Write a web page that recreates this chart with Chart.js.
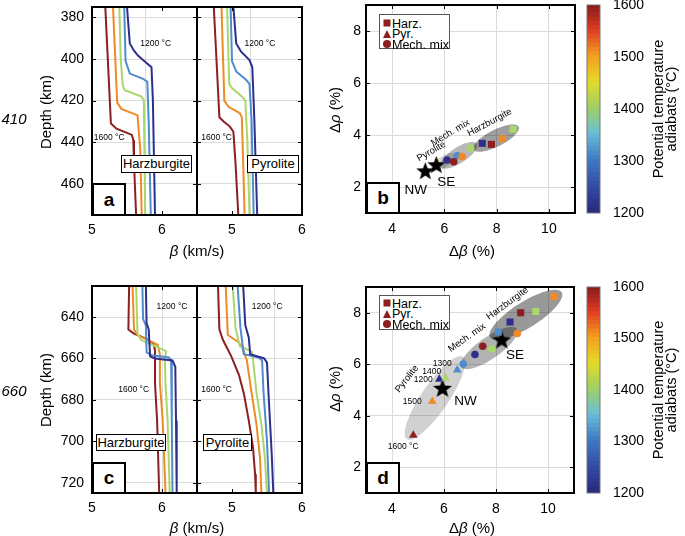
<!DOCTYPE html>
<html><head><meta charset="utf-8">
<script src="https://cdn.jsdelivr.net/npm/chart.js"></script>
<style>
html,body{margin:0;padding:0;background:#fff;}
#wrap{position:relative;width:685px;height:536px;overflow:hidden;font-family:"Liberation Sans",Arial,Helvetica,sans-serif;color:#000;}
canvas.layer{position:absolute;left:0;top:0;width:685px;height:536px;}
.t{position:absolute;white-space:nowrap;line-height:1;transform:translate(-50%,-50%);}
.rot{transform:translate(-50%,-50%) rotate(-90deg);}
.box{position:absolute;background:#fff;border:1px solid #000;font-size:13px;line-height:16px;text-align:center;box-sizing:border-box;}
.let{position:absolute;background:#fff;border:2px solid #000;font-weight:bold;font-size:19px;text-align:center;box-sizing:border-box;}
.leg{position:absolute;width:71px;height:35px;border:1px solid #555;box-sizing:border-box;background:#fff;}
.leg span{position:absolute;left:12px;font-size:12.5px;line-height:1;transform:translateY(-50%);white-space:nowrap;}
.sq{position:absolute;width:7px;height:7px;background:#8c1f1f;transform:translate(-50%,-50%);}
.tri{position:absolute;width:0;height:0;border-left:4.5px solid transparent;border-right:4.5px solid transparent;border-bottom:8px solid #8c1f1f;transform:translate(-50%,-50%);}
.ci{position:absolute;width:8px;height:8px;border-radius:50%;background:#8c1f1f;transform:translate(-50%,-50%);}
</style></head><body>
<div id="wrap">
<canvas class="layer" id="cA1" width="685" height="536"></canvas>
<canvas class="layer" id="cA2" width="685" height="536"></canvas>
<canvas class="layer" id="cC1" width="685" height="536"></canvas>
<canvas class="layer" id="cC2" width="685" height="536"></canvas>
<canvas class="layer" id="cB" width="685" height="536"></canvas>
<canvas class="layer" id="cD" width="685" height="536"></canvas>
<canvas class="layer" id="cCB1" width="685" height="536"></canvas>
<canvas class="layer" id="cCB2" width="685" height="536"></canvas>

<div class="t" style="left:14px;top:118px;font-size:15px;font-style:italic">410</div>
<div class="t" style="left:14px;top:390px;font-size:15px;font-style:italic">660</div>
<div class="t rot" style="left:45px;top:112px;font-size:15px">Depth (km)</div>
<div class="t rot" style="left:45px;top:390px;font-size:15px">Depth (km)</div>
<div class="t" style="left:197px;top:250px;font-size:15px"><i>β</i> (km/s)</div>
<div class="t" style="left:197px;top:527px;font-size:15px"><i>β</i> (km/s)</div>
<div class="t" style="left:472px;top:250px;font-size:15px">Δ<i>β</i> (%)</div>
<div class="t" style="left:472px;top:527px;font-size:15px">Δ<i>β</i> (%)</div>
<div class="t rot" style="left:334px;top:110px;font-size:15px">Δ<i>ρ</i> (%)</div>
<div class="t rot" style="left:334px;top:389px;font-size:15px">Δ<i>ρ</i> (%)</div>
<div class="t rot" style="left:665px;top:109px;font-size:14.5px;line-height:13px;text-align:center">Potential temperature<br>adiabats (°C)</div>
<div class="t rot" style="left:665px;top:390px;font-size:14.5px;line-height:13px;text-align:center">Potential temperature<br>adiabats (°C)</div>

<div class="box" style="left:121px;top:155px;width:71px;height:18px">Harzburgite</div>
<div class="box" style="left:247px;top:155px;width:52px;height:18px">Pyrolite</div>
<div class="box" style="left:96px;top:434px;width:70px;height:17px;line-height:15px">Harzburgite</div>
<div class="box" style="left:203px;top:434px;width:49px;height:17px;line-height:15px">Pyrolite</div>

<div class="let" style="left:92px;top:183px;width:34px;height:33px;line-height:29px">a</div>
<div class="let" style="left:366px;top:182px;width:34px;height:32px;line-height:28px">b</div>
<div class="let" style="left:92px;top:462px;width:34px;height:32px;line-height:28px">c</div>
<div class="let" style="left:366px;top:462px;width:34px;height:32px;line-height:28px">d</div>

<div class="leg" style="left:379px;top:14px">
  <div class="sq" style="left:7px;top:8px"></div><span style="top:8.5px">Harz.</span>
  <div class="tri" style="left:7px;top:18.5px"></div><span style="top:19px">Pyr.</span>
  <div class="ci" style="left:7px;top:29px"></div><span style="top:29.5px">Mech. mix</span>
</div>
<div class="leg" style="left:379px;top:295px">
  <div class="sq" style="left:7px;top:7px"></div><span style="top:7.5px">Harz.</span>
  <div class="tri" style="left:7px;top:17.5px"></div><span style="top:18px">Pyr.</span>
  <div class="ci" style="left:7px;top:28px"></div><span style="top:28.5px">Mech. mix</span>
</div>
</div>

<script>
// ===================== DATA =====================
const temps = [1200, 1300, 1400, 1500, 1600];           // potential temperature adiabats (°C)
const betaTicks = [5, 6];                                // β tick labels (km/s)
const depthTicks410 = [380, 400, 420, 440, 460];
const depthTicks660 = [640, 660, 680, 700, 720];
const dBetaTicks = [4, 6, 8, 10];
const dRhoTicks = [2, 4, 6, 8];
const cbarTicks = [1200, 1300, 1400, 1500, 1600];

// Panel a, Harzburgite, 410 km: [β (km/s), depth (km)]
const harz410_1200 = [[5.50,375],[5.54,392.5],[5.60,396],[5.66,398.5],[5.73,400.5],[5.85,404],[5.87,420],[5.90,475]];
const harz410_1300 = [[5.46,375],[5.48,401],[5.54,407],[5.73,409.5],[5.79,411],[5.81,430],[5.84,475]];
const harz410_1400 = [[5.39,375],[5.41,400],[5.44,413],[5.47,415],[5.70,418],[5.74,419.5],[5.76,475]];
const harz410_1500 = [[5.30,375],[5.36,421],[5.42,424],[5.57,426],[5.65,427],[5.69,444],[5.71,475]];
const harz410_1600 = [[5.19,375],[5.27,431],[5.35,433.5],[5.57,436.5],[5.59,439],[5.60,450],[5.63,475]];
// Panel a, Pyrolite, 410 km
const pyr410_1200 = [[5.02,375],[5.06,392.5],[5.13,396.5],[5.25,400.5],[5.29,404],[5.32,430],[5.36,475]];
const pyr410_1300 = [[4.98,375],[5.00,401],[5.06,406],[5.20,410],[5.25,412],[5.28,430],[5.31,475]];
const pyr410_1400 = [[4.93,375],[4.96,412],[5.00,414],[5.14,418],[5.19,420],[5.22,440],[5.25,475]];
const pyr410_1500 = [[4.85,375],[4.89,420],[4.95,423],[5.11,426],[5.14,428],[5.16,450],[5.18,475]];
const pyr410_1600 = [[4.74,375],[4.82,428],[4.88,430],[4.97,432.5],[5.02,435],[5.05,450],[5.09,475]];
// Panel c, Harzburgite, 660 km
const harz660_1200 = [[5.77,625],[5.78,643],[5.81,646],[5.83,659],[5.90,660],[6.15,661],[6.19,664],[6.20,690],[6.21,725]];
const harz660_1300 = [[5.72,625],[5.73,641],[5.77,644],[5.78,657],[5.85,658.5],[6.10,659.5],[6.13,661],[6.14,690],[6.15,725]];
const harz660_1400 = [[5.63,625],[5.65,648],[5.70,651],[5.90,654],[6.06,656.5],[6.04,660],[6.05,672],[6.08,690],[6.11,725]];
const harz660_1500 = [[5.58,625],[5.60,646],[5.66,649],[5.80,651],[5.94,653.5],[5.97,658],[5.97,672],[6.01,690],[6.05,725]];
const harz660_1600 = [[5.53,625],[5.52,646],[5.60,648],[5.78,650.5],[5.88,653],[5.90,656],[5.90,672],[5.93,690],[5.96,725]];
// Panel c, Pyrolite, 660 km
const pyr660_1200 = [[5.16,625],[5.19,644],[5.24,650],[5.26,658],[5.46,660],[5.50,662],[5.52,676],[5.57,708],[5.59,725]];
const pyr660_1300 = [[5.08,625],[5.12,645],[5.16,656],[5.17,658],[5.38,659.5],[5.43,661],[5.45,676],[5.50,700],[5.53,725]];
const pyr660_1400 = [[5.01,625],[5.05,645],[5.11,654],[5.28,656.7],[5.30,660.6],[5.35,676.5],[5.42,692],[5.47,708],[5.50,725]];
const pyr660_1500 = [[4.91,625],[4.94,648.7],[5.09,652],[5.14,654.3],[5.21,660.6],[5.28,676.5],[5.35,692],[5.40,708],[5.42,725]];
const pyr660_1600 = [[4.80,625],[4.82,646],[4.87,651],[4.99,659],[5.10,668],[5.17,677],[5.24,690],[5.30,703],[5.33,716],[5.34,725]];

// Panel b (410 km): Δβ (%), Δρ (%) by composition
const bHarzT  = [1200, 1600, 1500, 1400];
const bHarzDB = [7.45, 7.80, 8.22, 8.63];
const bHarzDR = [3.68, 3.64, 3.86, 4.22];
const bMechT  = [1200, 1300, 1600, 1500, 1400];
const bMechDB = [6.10, 6.49, 6.36, 6.68, 7.00];
const bMechDR = [3.04, 3.20, 2.97, 3.17, 3.49];
const bStarNames = ['NW', 'SE'];
const bStarDB = [5.27, 5.69];
const bStarDR = [2.63, 2.87];
// Panel d (660 km)
const dHarzT  = [1300, 1200, 1600, 1400, 1500];
const dHarzDB = [8.09, 8.54, 8.95, 9.53, 10.23];
const dHarzDR = [7.25, 7.64, 8.00, 8.05, 8.63];
const dMechT  = [1300, 1200, 1600, 1400, 1500];
const dMechDB = [6.74, 7.19, 7.49, 7.83, 8.82];
const dMechDR = [6.01, 6.38, 6.70, 6.59, 7.19];
const dPyrT   = [1200, 1300, 1400, 1500, 1600];
const dPyrDB  = [5.82, 6.51, 6.07, 5.55, 4.82];
const dPyrDR  = [5.42, 5.78, 5.46, 4.56, 3.24];
const dStarNames = ['NW', 'SE'];
const dStarDB = [5.94, 8.22];
const dStarDR = [5.08, 6.96];

// ===================== STYLE / LAYOUT =====================
const W = 685, H = 536;
const FONT = "'Liberation Sans', Arial, Helvetica, sans-serif";
Chart.defaults.font.family = FONT;
Chart.defaults.color = '#000';
const tempColors = ['#2e2f8c', '#4e8ccc', '#a9d76c', '#f08a24', '#8c1f1f'];
const colorOf = T => tempColors[temps.indexOf(T)];
const GRID = '#dcdcdc';

function frame(plot, axW, xH, right) {
  return { autoPadding: false, padding: {
    left: plot.l - (right ? 0 : axW), right: W - plot.r - (right ? axW : 0),
    top: plot.t, bottom: H - plot.b - xH } };
}
function fixW(w) { return s => { s.width = w; s.paddingTop = 0; s.paddingBottom = 0; s.paddingLeft = 0; s.paddingRight = 0; }; }
function fixH(h) { return s => { s.height = h; s.paddingTop = 0; s.paddingBottom = 0; s.paddingLeft = 0; s.paddingRight = 0; }; }

function annot(spec) {
  return {
    id: 'annot',
    beforeDatasetsDraw(chart) {
      const { ctx, scales: { x, y } } = chart;
      (spec.ellipses || []).forEach(e => {
        const a = e.ang * Math.PI / 180;
        ctx.save(); ctx.beginPath();
        for (let i = 0; i <= 90; i++) {
          const t = i / 90 * 2 * Math.PI, u = e.a * Math.cos(t), v = e.b * Math.sin(t);
          const px = x.getPixelForValue(e.cx + u * Math.cos(a) - v * Math.sin(a));
          const py = y.getPixelForValue(e.cy + u * Math.sin(a) + v * Math.cos(a));
          i ? ctx.lineTo(px, py) : ctx.moveTo(px, py);
        }
        ctx.closePath(); ctx.fillStyle = e.fill; ctx.fill(); ctx.restore();
      });
    },
    afterDatasetsDraw(chart) {
      const { ctx, scales: { x, y } } = chart;
      (spec.texts || []).forEach(tx => {
        ctx.save();
        ctx.translate(x.getPixelForValue(tx.x), y.getPixelForValue(tx.y));
        ctx.rotate(-(tx.rot || 0) * Math.PI / 180);
        ctx.font = (tx.size || 9) + 'px ' + FONT;
        ctx.fillStyle = '#000'; ctx.textAlign = 'center'; ctx.textBaseline = 'middle';
        ctx.fillText(tx.text, 0, 0);
        ctx.restore();
      });
    },
    afterDraw(chart) {
      const { ctx, chartArea: a } = chart;
      ctx.save();
      if (spec.ticks) {
        ctx.strokeStyle = '#000'; ctx.lineWidth = 1; ctx.beginPath();
        chart.scales.y.ticks.forEach(t => {
          const py = Math.round(chart.scales.y.getPixelForValue(t.value)) + 0.5;
          ctx.moveTo(a.left, py); ctx.lineTo(a.left + 4, py);
          ctx.moveTo(a.right, py); ctx.lineTo(a.right - 4, py);
        });
        (spec.xTickVals || []).forEach(v => {
          const px = Math.round(chart.scales.x.getPixelForValue(v)) + 0.5;
          ctx.moveTo(px, a.bottom); ctx.lineTo(px, a.bottom - 4);
          ctx.moveTo(px, a.top); ctx.lineTo(px, a.top + 4);
        });
        ctx.stroke();
      }
      ctx.strokeStyle = spec.borderColor || '#000';
      ctx.lineWidth = spec.borderWidth || 2;
      ctx.strokeRect(a.left, a.top, a.right - a.left, a.bottom - a.top);
      ctx.restore();
    }
  };
}

function profile(id, plot, series, cfg) {
  const allX = [...new Set([...betaTicks, ...cfg.gridX])].sort((p, q) => p - q);
  new Chart(document.getElementById(id), {
    type: 'scatter',
    data: { datasets: series.map((s, i) => ({
      data: s.map(p => ({ x: p[0], y: p[1] })), showLine: true, borderColor: tempColors[i],
      borderWidth: 2, pointRadius: 0, fill: false, tension: 0 })) },
    options: {
      responsive: false, animation: false, events: [],
      layout: frame(plot, cfg.yLabels ? 50 : 0, 40, false),
      plugins: { legend: { display: false }, tooltip: { enabled: false } },
      scales: {
        x: { type: 'linear', min: cfg.xMin, max: cfg.xMax,
          afterFit: fixH(40),
          afterBuildTicks: s => { s.ticks = allX.map(v => ({ value: v })); },
          ticks: { autoSkip: false, maxRotation: 0, padding: 7, font: { size: 14 }, color: '#000',
            callback: v => betaTicks.includes(v) ? String(v) : '' },
          grid: { drawTicks: false, lineWidth: 1,
            color: c => (c.tick && cfg.gridX.includes(c.tick.value)) ? GRID : 'rgba(0,0,0,0)' },
          border: { display: false } },
        y: { type: 'linear', reverse: true, min: cfg.yMin, max: cfg.yMax,
          afterFit: fixW(cfg.yLabels ? 50 : 0),
          afterBuildTicks: s => { s.ticks = cfg.yTicks.map(v => ({ value: v })); },
          ticks: { display: cfg.yLabels, padding: 8, font: { size: 14 }, color: '#000', callback: v => String(v) },
          grid: { drawTicks: false, color: GRID, lineWidth: 1 },
          border: { display: false } }
      }
    },
    plugins: [annot({ texts: cfg.texts, ticks: true, xTickVals: betaTicks })]
  });
}

function starImage(size) {
  const c = document.createElement('canvas'); c.width = c.height = size;
  const g = c.getContext('2d'); g.beginPath();
  for (let i = 0; i < 10; i++) {
    const r = i % 2 ? size * 0.21 : size * 0.5, a = -Math.PI / 2 + i * Math.PI / 5;
    g.lineTo(size / 2 + r * Math.cos(a), size / 2 + r * Math.sin(a) + size * 0.05);
  }
  g.closePath(); g.fillStyle = '#000'; g.fill();
  return c;
}

function scatterPanel(id, plot, groups, stars, spec) {
  const ds = groups.map(g => ({
    data: g.x.map((v, i) => ({ x: v, y: g.y[i] })), pointStyle: g.style, pointRadius: g.r,
    pointBackgroundColor: g.T.map(colorOf), pointBorderColor: g.T.map(colorOf), pointBorderWidth: 0,
    showLine: false }));
  ds.push({ data: stars.x.map((v, i) => ({ x: v, y: stars.y[i] })), pointStyle: starImage(stars.size),
    pointRadius: 8, showLine: false });
  new Chart(document.getElementById(id), {
    type: 'scatter',
    data: { datasets: ds },
    options: {
      responsive: false, animation: false, events: [],
      layout: frame(plot, 40, 40, false),
      plugins: { legend: { display: false }, tooltip: { enabled: false } },
      scales: {
        x: { type: 'linear', min: 3, max: 11,
          afterFit: fixH(40),
          afterBuildTicks: s => { s.ticks = dBetaTicks.map(v => ({ value: v })); },
          ticks: { autoSkip: false, maxRotation: 0, padding: 8, font: { size: 14 }, color: '#000', callback: v => String(v) },
          grid: { drawTicks: false, color: GRID }, border: { display: false } },
        y: { type: 'linear', min: 1, max: 9,
          afterFit: fixW(40),
          afterBuildTicks: s => { s.ticks = dRhoTicks.map(v => ({ value: v })); },
          ticks: { padding: 5, font: { size: 14 }, color: '#000', callback: v => String(v) },
          grid: { drawTicks: false, color: GRID }, border: { display: false } }
      }
    },
    plugins: [annot(Object.assign({ ticks: true, xTickVals: dBetaTicks }, spec))]
  });
}

const cmapStops = [[0,[42,42,128]],[0.125,[52,76,165]],[0.25,[62,122,195]],[0.375,[105,190,215]],
  [0.5,[160,208,100]],[0.625,[228,218,40]],[0.75,[244,158,32]],[0.875,[222,58,35]],[1,[128,26,26]]];
function cmap(f) {
  for (let i = 1; i < cmapStops.length; i++) {
    if (f <= cmapStops[i][0]) {
      const [f0, c0] = cmapStops[i - 1], [f1, c1] = cmapStops[i], k = (f - f0) / (f1 - f0);
      return 'rgb(' + c0.map((v, j) => Math.round(v + (c1[j] - v) * k)).join(',') + ')';
    }
  }
  return 'rgb(128,26,26)';
}

function colorbar(id, plot) {
  const lo = cbarTicks[0], hi = cbarTicks[cbarTicks.length - 1], N = 48, step = (hi - lo) / N;
  const ds = [];
  for (let i = 0; i < N; i++) {
    ds.push({ data: [[lo + i * step, Math.min(hi, lo + (i + 1.3) * step)]], backgroundColor: cmap((i + 0.5) / N),
      borderWidth: 0, barPercentage: 1, categoryPercentage: 1, grouped: false });
  }
  new Chart(document.getElementById(id), {
    type: 'bar',
    data: { labels: [''], datasets: ds },
    options: {
      responsive: false, animation: false, events: [],
      layout: frame(plot, 45, 0, true),
      plugins: { legend: { display: false }, tooltip: { enabled: false } },
      scales: {
        x: { display: false },
        y: { position: 'right', min: lo, max: hi,
          afterFit: fixW(45),
          afterBuildTicks: s => { s.ticks = cbarTicks.map(v => ({ value: v })); },
          ticks: { padding: 5, font: { size: 14 }, color: '#000', callback: v => String(v) },
          grid: { display: false }, border: { display: false } }
      }
    },
    plugins: [annot({ borderColor: '#777', borderWidth: 1 })]
  });
}

// ===================== CHARTS =====================
profile('cA1', { l: 92, r: 197, t: 7, b: 215 },
  [harz410_1200, harz410_1300, harz410_1400, harz410_1500, harz410_1600],
  { xMin: 5, xMax: 6.5, yMin: 375, yMax: 475, yTicks: depthTicks410, yLabels: true, gridX: [5.76],
    texts: [{ x: 5.91, y: 392.8, text: '1200 °C', size: 8.5 }, { x: 5.246, y: 438, text: '1600 °C', size: 8.5 }] });
profile('cA2', { l: 197, r: 302, t: 7, b: 215 },
  [pyr410_1200, pyr410_1300, pyr410_1400, pyr410_1500, pyr410_1600],
  { xMin: 4.5, xMax: 6, yMin: 375, yMax: 475, yTicks: depthTicks410, yLabels: false, gridX: [5.26],
    texts: [{ x: 5.40, y: 392.8, text: '1200 °C', size: 8.5 }, { x: 4.78, y: 438, text: '1600 °C', size: 8.5 }] });
profile('cC1', { l: 92, r: 197, t: 286, b: 493 },
  [harz660_1200, harz660_1300, harz660_1400, harz660_1500, harz660_1600],
  { xMin: 5, xMax: 6.5, yMin: 625, yMax: 725, yTicks: depthTicks660, yLabels: true, gridX: [6],
    texts: [{ x: 6.143, y: 635.1, text: '1200 °C', size: 8.5 }, { x: 5.596, y: 675.2, text: '1600 °C', size: 8.5 }] });
profile('cC2', { l: 197, r: 302, t: 286, b: 493 },
  [pyr660_1200, pyr660_1300, pyr660_1400, pyr660_1500, pyr660_1600],
  { xMin: 4.5, xMax: 6, yMin: 625, yMax: 725, yTicks: depthTicks660, yLabels: false, gridX: [5.6],
    texts: [{ x: 5.503, y: 635.1, text: '1200 °C', size: 8.5 }, { x: 4.78, y: 675.2, text: '1600 °C', size: 8.5 }] });

scatterPanel('cB', { l: 366, r: 575, t: 5, b: 213 },
  [{ T: bHarzT, x: bHarzDB, y: bHarzDR, style: 'rect', r: 5 },
   { T: bMechT, x: bMechDB, y: bMechDR, style: 'circle', r: 3.8 }],
  { x: bStarDB, y: bStarDR, size: 19 },
  { ellipses: [
      { cx: 5.95, cy: 2.95, a: 0.55, b: 0.22, ang: 33, fill: 'rgba(0,0,0,0.16)' },
      { cx: 6.55, cy: 3.22, a: 0.82, b: 0.30, ang: 33, fill: 'rgba(0,0,0,0.28)' },
      { cx: 7.98, cy: 3.88, a: 0.97, b: 0.32, ang: 27, fill: 'rgba(0,0,0,0.38)' }],
    texts: [
      { x: 5.5, y: 3.37, text: 'Pyrolite', size: 9.5, rot: 30 },
      { x: 6.23, y: 4.08, text: 'Mech. mix', size: 9.5, rot: 31 },
      { x: 7.73, y: 4.48, text: 'Harzburgite', size: 9.5, rot: 28 },
      { x: 4.9, y: 1.88, text: bStarNames[0], size: 13.5 },
      { x: 6.07, y: 2.17, text: bStarNames[1], size: 13.5 }] });

scatterPanel('cD', { l: 366, r: 574, t: 287, b: 493 },
  [{ T: dPyrT, x: dPyrDB, y: dPyrDR, style: 'triangle', r: 5 },
   { T: dHarzT, x: dHarzDB, y: dHarzDR, style: 'rect', r: 5 },
   { T: dMechT, x: dMechDB, y: dMechDR, style: 'circle', r: 3.8 }],
  { x: dStarDB, y: dStarDR, size: 20 },
  { ellipses: [
      { cx: 5.65, cy: 4.69, a: 1.93, b: 0.52, ang: 56, fill: 'rgba(0,0,0,0.18)' },
      { cx: 7.74, cy: 6.63, a: 1.30, b: 0.42, ang: 35, fill: 'rgba(0,0,0,0.30)' },
      { cx: 9.15, cy: 7.92, a: 1.63, b: 0.50, ang: 32.5, fill: 'rgba(0,0,0,0.40)' }],
    texts: [
      { x: 4.57, y: 5.43, text: 'Pyrolite', size: 9.5, rot: 52 },
      { x: 6.88, y: 7.03, text: 'Mech. mix', size: 9.5, rot: 35 },
      { x: 8.44, y: 8.36, text: 'Harzburgite', size: 9.5, rot: 36 },
      { x: 8.73, y: 6.33, text: dStarNames[1], size: 13.5 },
      { x: 6.83, y: 4.56, text: dStarNames[0], size: 13.5 },
      { x: 5.93, y: 6.04, text: '1300', size: 8.5 },
      { x: 5.53, y: 5.72, text: '1400', size: 8.5 },
      { x: 5.20, y: 5.42, text: '1200', size: 8.5 },
      { x: 4.78, y: 4.56, text: '1500', size: 8.5 },
      { x: 4.43, y: 2.81, text: '1600 °C', size: 8.5 }] });

colorbar('cCB1', { l: 587, r: 600, t: 5, b: 213 });
colorbar('cCB2', { l: 587, r: 600, t: 287, b: 493 });
</script>
</body></html>
